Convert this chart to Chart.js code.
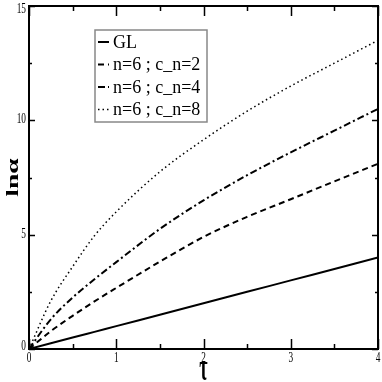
<!DOCTYPE html>
<html>
<head>
<meta charset="utf-8">
<script src="https://cdn.jsdelivr.net/npm/chart.js@4.4.1/dist/chart.umd.min.js"></script>
<style>
  html, body { margin: 0; padding: 0; background: #fff; }
  #wrap { width: 382px; height: 382px; }
</style>
</head>
<body>
<div id="wrap"><canvas id="lnChart" width="382" height="382"></canvas></div>
<script>
// === Data ===
const tau = [0, 0.25, 0.5, 0.75, 1, 1.5, 2, 2.5, 3, 3.5, 4];
const glValues = [0, 0.25, 0.5, 0.75, 1, 1.5, 2, 2.5, 3, 3.5, 4];
const cn2Values = [0, 0.78, 1.45, 2.08, 2.67, 3.82, 4.9, 5.78, 6.55, 7.33, 8.1];
const cn4Values = [0, 1.3, 2.25, 3.05, 3.8, 5.25, 6.5, 7.6, 8.6, 9.55, 10.5];
const cn8Values = [0, 2.1, 3.6, 4.95, 6.0, 7.75, 9.15, 10.4, 11.5, 12.5, 13.5];

const seriesLabels = ["GL", "n=6 ; c_n=2", "n=6 ; c_n=4", "n=6 ; c_n=8"];
const xTicks = [0, 1, 2, 3, 4];
const yTicks = [0, 5, 10, 15];
const xMinorTicks = [0.5, 1.5, 2.5, 3.5];
const yMinorTicks = [2.5, 7.5, 12.5];

const SERIF = "'Liberation Serif', 'DejaVu Serif', serif";

function toPoints(values) {
  return tau.map((t, i) => ({ x: t, y: values[i] }));
}

// narrow text, like the squeezed original
function squeezedText(c, text, x, y, sx, align) {
  c.save();
  c.translate(x, y);
  c.scale(sx, 1);
  c.textAlign = align;
  c.fillText(text, 0, 0);
  c.restore();
}

// === Frame, inward ticks, tick labels and axis titles ===
const framePlugin = {
  id: "frame",
  afterDraw(chart) {
    const c = chart.ctx;
    const a = chart.chartArea;
    const xs = chart.scales.x;
    const ys = chart.scales.y;
    c.save();
    c.strokeStyle = "#000";
    c.lineWidth = 1.5;
    c.setLineDash([]);
    const tickX = (vals, len) => vals.forEach(v => {
      const px = Math.round(xs.getPixelForValue(v)) + 0.5;
      c.beginPath();
      c.moveTo(px, a.bottom); c.lineTo(px, a.bottom - len);
      c.moveTo(px, a.top); c.lineTo(px, a.top + len);
      c.stroke();
    });
    const tickY = (vals, len) => vals.forEach(v => {
      const py = Math.round(ys.getPixelForValue(v)) + 0.5;
      c.beginPath();
      c.moveTo(a.left, py); c.lineTo(a.left + len, py);
      c.moveTo(a.right, py); c.lineTo(a.right - len, py);
      c.stroke();
    });
    tickX(xTicks, 10);
    tickX(xMinorTicks, 5);
    tickY(yTicks, 6);
    tickY(yMinorTicks, 3);
    c.lineWidth = 2;
    c.strokeRect(a.left, a.top, a.right - a.left, a.bottom - a.top);

    // tick labels
    c.fillStyle = "#000";
    c.font = "15px " + SERIF;
    c.textBaseline = "middle";
    xTicks.forEach(v => {
      squeezedText(c, String(v), xs.getPixelForValue(v), 358, 0.62, "center");
    });
    yTicks.forEach(v => {
      const py = Math.max(ys.getPixelForValue(v), 10);
      squeezedText(c, String(v), 26, Math.min(py - 1, 346), 0.62, "right");
    });

    // axis titles
    c.font = "bold 20px " + SERIF;
    c.textAlign = "center";
    c.save();
    c.translate((a.left + a.right) / 2, 370);
    c.scale(0.9, 1.9);
    c.fillText("\u03C4", 0, 0);
    c.restore();
    c.translate(14, (a.top + a.bottom) / 2);
    c.rotate(-Math.PI / 2);
    c.scale(1.45, 0.9);
    c.font = "bold 19px " + SERIF;
    c.fillText("ln\u03B1", 0, 0);
    c.restore();
  }
};

// === Legend box inside the plot ===
const boxLegendPlugin = {
  id: "boxLegend",
  afterDraw(chart) {
    const c = chart.ctx;
    const bx = 95, by = 30, bw = 112, bh = 92;
    c.save();
    c.fillStyle = "#fff";
    c.fillRect(bx, by, bw, bh);
    c.strokeStyle = "#888";
    c.lineWidth = 1.5;
    c.strokeRect(bx, by, bw, bh);
    chart.data.datasets.forEach((ds, i) => {
      const y = by + 12 + i * 22.5;
      c.strokeStyle = "#000";
      c.lineWidth = ds.borderWidth;
      c.setLineDash(ds.borderDash || []);
      c.beginPath();
      c.moveTo(bx + 3, y);
      c.lineTo(bx + 14, y);
      c.stroke();
      c.setLineDash([]);
      c.fillStyle = "#000";
      c.font = "18px " + SERIF;
      c.textAlign = "left";
      c.textBaseline = "middle";
      c.fillText(ds.label, bx + 18, y + 1);
    });
    c.restore();
  }
};

const ctx = document.getElementById("lnChart").getContext("2d");

new Chart(ctx, {
  type: "line",
  data: {
    datasets: [
      { label: seriesLabels[0], data: toPoints(glValues), borderColor: "#000", borderWidth: 2, borderDash: [] },
      { label: seriesLabels[1], data: toPoints(cn2Values), borderColor: "#000", borderWidth: 2, borderDash: [6, 4] },
      { label: seriesLabels[2], data: toPoints(cn4Values), borderColor: "#000", borderWidth: 2, borderDash: [7, 3, 2, 3] },
      { label: seriesLabels[3], data: toPoints(cn8Values), borderColor: "#000", borderWidth: 1.5, borderDash: [1.5, 3] }
    ]
  },
  options: {
    responsive: false,
    animation: false,
    layout: { padding: { top: 6, right: 4, left: 0, bottom: 0 } },
    elements: {
      point: { radius: 0 },
      line: { tension: 0.4, cubicInterpolationMode: "monotone", fill: false }
    },
    plugins: {
      legend: { display: false },
      tooltip: { enabled: false }
    },
    scales: {
      x: {
        type: "linear",
        min: 0,
        max: 4,
        afterFit(scale) { scale.height = 33; },
        afterBuildTicks(scale) { scale.ticks = xTicks.map(v => ({ value: v })); },
        grid: { display: false, drawTicks: false },
        border: { display: false },
        ticks: { display: false }
      },
      y: {
        type: "linear",
        min: 0,
        max: 15,
        afterFit(scale) { scale.width = 29; },
        afterBuildTicks(scale) { scale.ticks = yTicks.map(v => ({ value: v })); },
        grid: { display: false, drawTicks: false },
        border: { display: false },
        ticks: { display: false }
      }
    }
  },
  plugins: [framePlugin, boxLegendPlugin]
});
</script>
</body>
</html>
